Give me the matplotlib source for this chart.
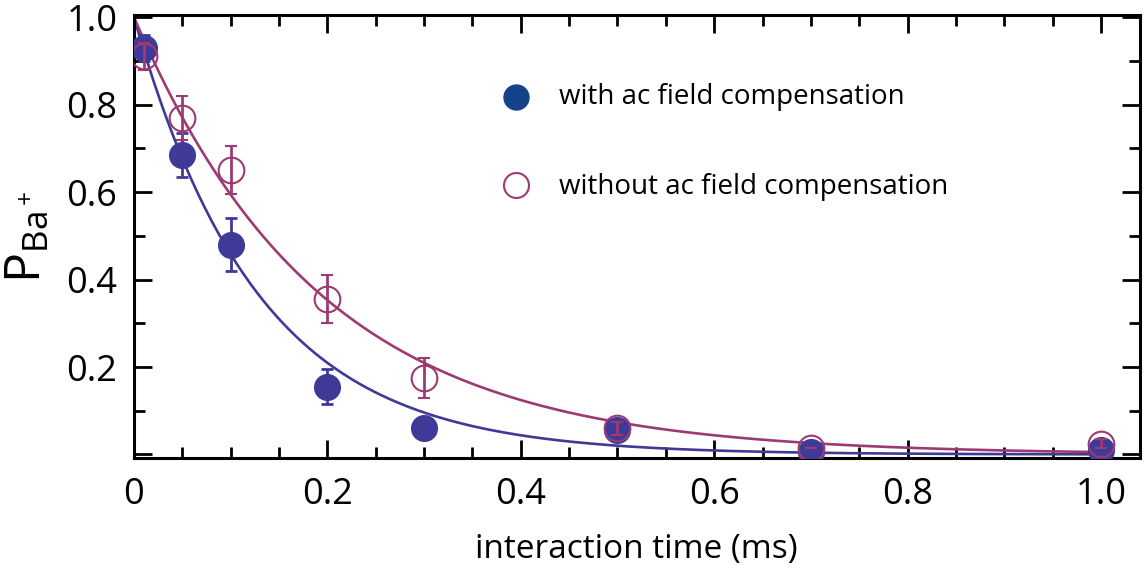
import numpy as np
import matplotlib
matplotlib.use("Agg")
import matplotlib.pyplot as plt
from matplotlib.ticker import MultipleLocator

plt.rcParams['font.family'] = ['Open Sans', 'DejaVu Sans']
plt.rcParams['mathtext.fontset'] = 'custom'
plt.rcParams['mathtext.rm'] = 'Open Sans'

# data
t = [0.01, 0.05, 0.1, 0.2, 0.3, 0.5, 0.7, 1.0]
p_comp = [0.93, 0.685, 0.48, 0.155, 0.06, 0.055, 0.005, 0.01]
err_comp = [0.03, 0.05, 0.06, 0.04, 0.0, 0.01, 0.0, 0.0]
p_nocomp = [0.91, 0.77, 0.65, 0.355, 0.175, 0.06, 0.015, 0.025]
err_nocomp = [0.03, 0.05, 0.055, 0.055, 0.045, 0.015, 0.0, 0.01]

# exponential fit decay times (ms)
tau_comp = 0.128
tau_nocomp = 0.192

blue = '#3f3a98'
purple = '#9e3a72'

fig = plt.figure(figsize=(11.48, 5.73), dpi=100)
ax = fig.add_axes([0.1167, 0.2007, 0.876, 0.7733])

tt = np.linspace(0, 1.0, 300)
ax.plot(tt, np.exp(-tt / tau_comp), color=blue, lw=1.9, zorder=2)
ax.plot(tt, np.exp(-tt / tau_nocomp), color=purple, lw=1.9, zorder=2)

ax.errorbar(t, p_comp, yerr=err_comp, fmt='o', color=blue, ms=18.5,
            elinewidth=2, capsize=4, capthick=2, zorder=3)
ax.errorbar(t, p_nocomp, yerr=err_nocomp, fmt='o', color=purple, ms=18.5,
            mfc='none', mew=1.5, elinewidth=2, capsize=4, capthick=2, zorder=4)

# legend drawn by hand
ax.plot([0.395], [0.817], 'o', color='#15438a', ms=18)
ax.plot([0.395], [0.616], 'o', color=purple, ms=18, mfc='none', mew=1.5)
ax.text(0.44, 0.817, 'with ac field compensation', fontsize=20, va='center')
ax.text(0.44, 0.612, 'without ac field compensation', fontsize=20, va='center')

ax.set_xlim(0, 1.04)
ax.set_ylim(-0.008, 1.005)

ax.set_xticks([0, 0.2, 0.4, 0.6, 0.8, 1.0])
ax.set_xticklabels(['0', '0.2', '0.4', '0.6', '0.8', '1.0'])
ax.xaxis.set_minor_locator(MultipleLocator(0.05))
ax.set_yticks([0, 0.2, 0.4, 0.6, 0.8, 1.0])
ax.set_yticklabels(['', '0.2', '0.4', '0.6', '0.8', '1.0'])
ax.yaxis.set_minor_locator(MultipleLocator(0.1))

ax.tick_params(which='both', direction='in', top=True, right=True, width=2,
               labelsize=26, color='black')
ax.tick_params(which='major', length=13)
ax.tick_params(which='minor', length=8)
ax.tick_params(axis='y', pad=12)
ax.tick_params(axis='x', pad=14)
for s in ax.spines.values():
    s.set_linewidth(2.2)

ax.set_xlabel('interaction time (ms)', fontsize=24, labelpad=14)
ax.set_ylabel(r'$\mathregular{P_{Ba^+}}$', fontsize=36, labelpad=10)

fig.savefig('out.png', dpi=100)
